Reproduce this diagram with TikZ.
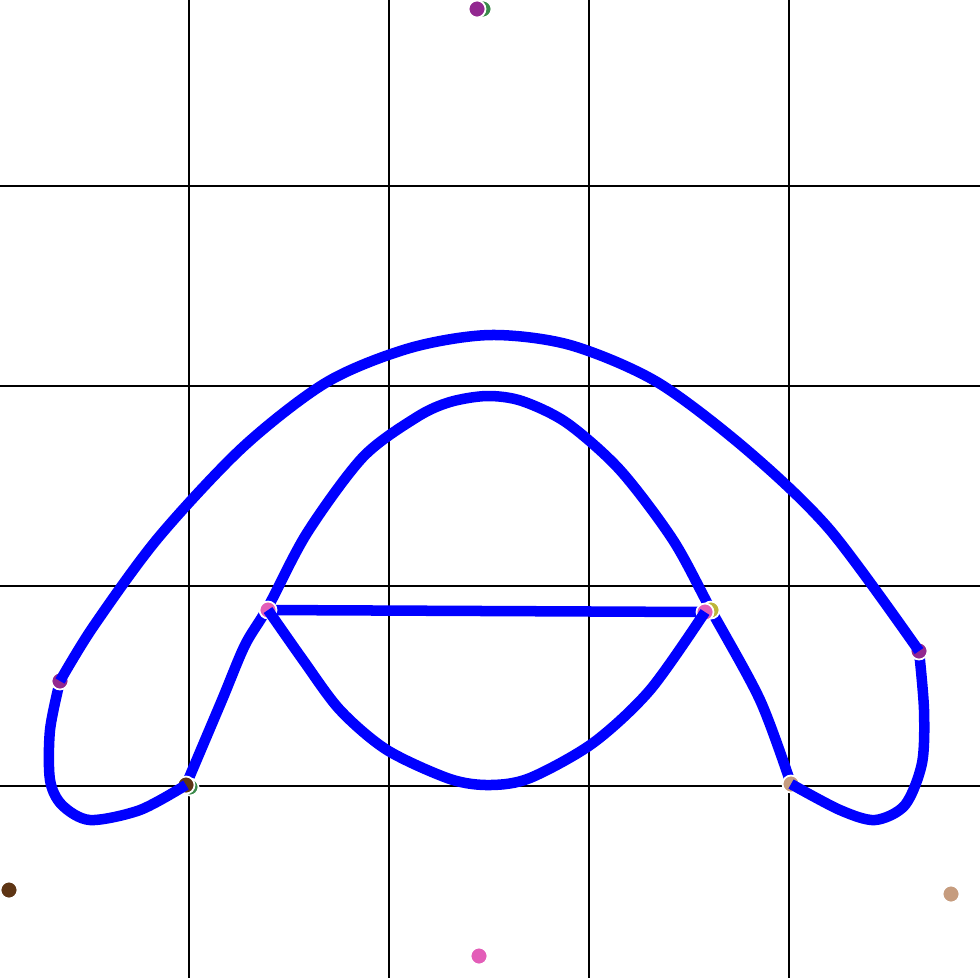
\documentclass[tikz,border=0pt]{standalone}
\usepackage{tikz}
\definecolor{cpurple}{HTML}{922890}
\definecolor{cgreen}{HTML}{3A8A4A}
\definecolor{cbrown}{HTML}{5E3515}
\definecolor{cpink}{HTML}{E35DB8}
\definecolor{cyell}{HTML}{BDB53A}
\definecolor{ctan}{HTML}{C69C7E}
\tikzset{
  gridline/.style={black, line width=0.02cm},
  curve/.style={blue, line width=0.105cm, line join=round},
  dot/.style={circle, draw=white, line width=0.5pt, inner sep=0pt, minimum size=0.17cm, fill=#1},
}
\begin{document}
\begin{tikzpicture}[x=0.01cm, y=-0.01cm]
\useasboundingbox (0,0) rectangle (980,978);
\fill[white] (0,0) rectangle (980,978);
% grid
\foreach \gx in {189,389,589,789} \draw[gridline] (\gx,0) -- (\gx,978);
\foreach \gy in {186,386,586,786} \draw[gridline] (0,\gy) -- (980,\gy);
% coordinates
\coordinate (LP) at (60,681);
\coordinate (RP) at (919,651);
\coordinate (LB) at (186,785);
\coordinate (RT) at (791,784);
\coordinate (LK) at (268,610);
\coordinate (RK) at (705,612);
% inner arch with legs and horizontal bar
\draw[curve] plot[smooth, tension=0.5] coordinates {(LB) (222,700) (245,645) (268,607) (307,533) (363,457) (417,417) (450,402) (487,396) (522,401) (567,423) (620,470) (673,540) (711,610) (760,700) (RT)};
\draw[curve] (LK) -- (RK);
% dots under the loops
\node[dot=cgreen] (g2) at (190,787) {};
\node[dot=cbrown] (b1) at (LB) {};
\node[dot=ctan] (t1) at (RT) {};
\node[dot=cpink] (p1) at (LK) {};
\node[dot=cyell] (y1) at (711,610) {};
\node[dot=cpink] (p2) at (RK) {};
% lower loops
\draw[curve] plot[smooth, tension=0.5] coordinates {(LK) (303,660) (340,710) (387,750) (450,779) (490,785) (530,778) (593,743) (650,690) (RK)};
\draw[curve] plot[smooth, tension=0.5] coordinates {(LP) (50,730) (50,780) (62,805) (90,820) (140,810) (LB)};
\draw[curve] plot[smooth, tension=0.5] coordinates {(RP) (924,710) (922,763) (905,805) (875,820) (840,810) (RT)};
% purple end dots
\node[dot=cpurple] (pl) at (LP) {};
\node[dot=cpurple] (pr) at (RP) {};
% outer arch
\draw[curve] plot[smooth, tension=0.5] coordinates {(LP) (93,627) (158,538) (243,447) (327,382) (410,348) (490,335) (570,345) (657,382) (747,450) (830,530) (RP)};
% free dots
\node[dot=cgreen] (g1) at (483,9) {};
\node[dot=cpurple] (pt) at (477,9) {};
\node[dot=cbrown] (b2) at (9,890) {};
\node[dot=cpink] (p3) at (479,956) {};
\node[dot=ctan] (t2) at (951,894) {};
\end{tikzpicture}
\end{document}
